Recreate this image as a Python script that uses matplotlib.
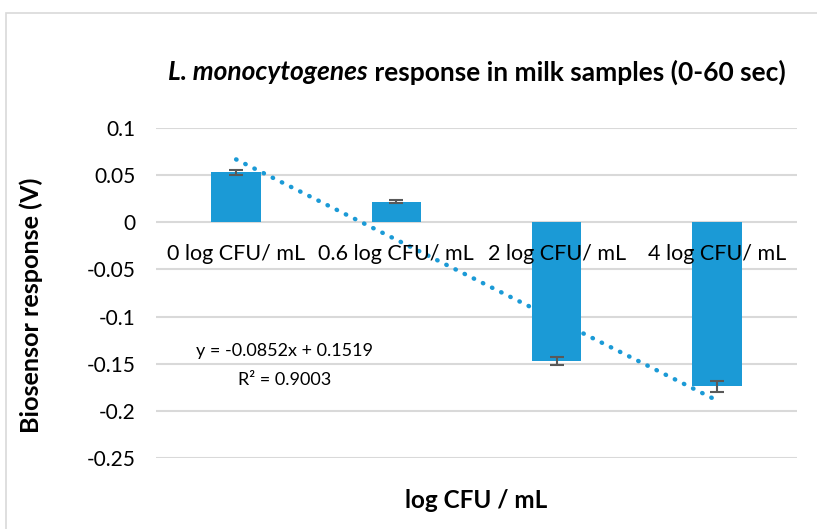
import matplotlib
matplotlib.use("Agg")
import matplotlib.pyplot as plt
from matplotlib.patches import Rectangle
import numpy as np

categories = ["0 log CFU/ mL", "0.6 log CFU/ mL", "2 log CFU/ mL", "4 log CFU/ mL"]
values = [0.053, 0.022, -0.147, -0.174]
errors = [0.0028, 0.0015, 0.004, 0.0055]
slope, intercept = -0.0852, 0.1519
yticks = [0.1, 0.05, 0, -0.05, -0.1, -0.15, -0.2, -0.25]
ytick_labels = ["0.1", "0.05", "0", "-0.05", "-0.1", "-0.15", "-0.2", "-0.25"]

FONT = ["Lato", "DejaVu Sans"]
plt.rcParams['font.family'] = FONT
BLUE = "#1B9AD6"
GRID = "#D9D9D9"
TXT = "#000000"

fig = plt.figure(figsize=(8.17, 5.29), dpi=100)
fig.patches.append(Rectangle((6/817, -0.1), 1.2, 1 - 13/529 + 0.1, transform=fig.transFigure,
                             fill=False, edgecolor="#D9D9D9", linewidth=1.2))

ax = fig.add_axes([156/817, (529-458)/529, (797-156)/817, (458-128)/529])
x = np.arange(1, len(values) + 1)
ax.bar(x, values, width=0.31, color=BLUE, zorder=3)
ax.errorbar(x, values, yerr=errors, fmt="none", ecolor="#595959", elinewidth=1.5,
            capsize=5, capthick=1.5, zorder=4)
xt = np.array([x[0], x[-1]], dtype=float)
ax.plot(xt, slope * xt + intercept, linestyle=(0, (0.1, 2.2)), dash_capstyle="round",
        color=BLUE, linewidth=3.2, zorder=5)

ax.set_xlim(0.5, len(values) + 0.5)
ax.set_ylim(-0.25, 0.1)
ax.set_yticks(yticks)
ax.set_yticklabels(ytick_labels, fontsize=15, color=TXT)
ax.tick_params(axis="y", length=0, pad=15)
ax.set_xticks([])
for s in ax.spines.values():
    s.set_visible(False)
ax.grid(axis="y", color=GRID, linewidth=1.5, zorder=0)
ax.set_axisbelow(True)

for xi, lab in zip(x, categories):
    ax.text(xi, -0.034, lab, ha="center", va="center", fontsize=15.5, color=TXT, zorder=6)

ax.text(1.3, -0.136, "y = -0.0852x + 0.1519", ha="center", va="center", fontsize=13, color=TXT)
ax.text(1.3, -0.167, "R² = 0.9003", ha="center", va="center", fontsize=13, color=TXT)

t1 = fig.text(0.0, 1 - 72/529, "L. monocytogenes", fontsize=19, fontstyle="italic",
              fontweight="bold", color=TXT, va="center", ha="left")
t2 = fig.text(0.0, 1 - 72/529, " response in milk samples (0-60 sec)", fontsize=19,
              fontweight="bold", color=TXT, va="center", ha="left")
fig.canvas.draw()
r = fig.canvas.get_renderer()
w1 = t1.get_window_extent(r).width / fig.bbox.width
w2 = t2.get_window_extent(r).width / fig.bbox.width
start = 477/817 - (w1 + w2) / 2
t1.set_x(start)
t2.set_x(start + w1)

fig.text(31/817, (529 - 305)/529, "Biosensor response (V)", rotation=90, fontsize=18.2,
         fontweight="bold", color=TXT, ha="center", va="center")
fig.text(476/817, 1 - 500/529, "log CFU / mL", fontsize=17.5, fontweight="bold",
         color=TXT, ha="center", va="center")

fig.savefig("out.png", dpi=100)
